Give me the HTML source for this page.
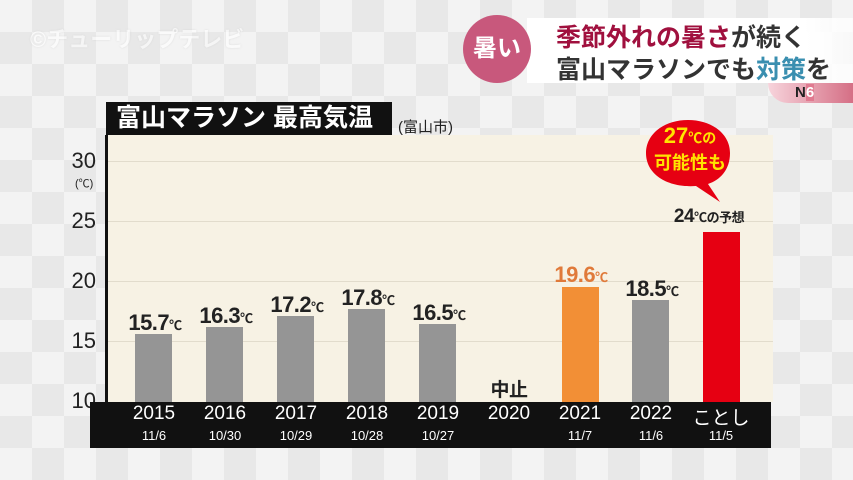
<!DOCTYPE html>
<html><head><meta charset="utf-8"><style>
*{margin:0;padding:0;box-sizing:border-box}
body{width:853px;height:480px;overflow:hidden;position:relative;font-family:"Liberation Sans","Noto Sans CJK JP",sans-serif;
background-color:#f3f3f3;
background-image:linear-gradient(45deg,#e8e8e8 25%,transparent 25%,transparent 75%,#e8e8e8 75%),linear-gradient(45deg,#e8e8e8 25%,transparent 25%,transparent 75%,#e8e8e8 75%);
background-size:64px 64px;background-position:0 0,32px 32px}
.a{position:absolute}
.bar{position:absolute;width:37px;background:#959595}
.lbl{position:absolute;font-weight:bold;font-size:22px;color:#222;white-space:nowrap;transform:translateX(-50%);letter-spacing:-0.5px}
.lbl small{font-size:13px}
.yt{position:absolute;right:757px;font-size:22px;color:#222}
.xl{position:absolute;width:70px;text-align:center;color:#fff;transform:translateX(-50%)}
</style></head><body>
<div class="a" style="left:30px;top:22px;font-size:22px;color:#fff;opacity:.6;font-weight:bold;text-shadow:0 0 2px #ccc">©チューリップテレビ</div>
<div class="a" style="left:527px;top:18px;width:326px;height:65px;background:linear-gradient(90deg,#fff 85%,rgba(255,255,255,.7))"></div>
<div class="a" style="left:463px;top:15px;width:68px;height:68px;border-radius:50%;background:#c8587c;color:#fff;font-size:24px;text-align:center;line-height:68px;font-weight:bold">暑い</div>
<div class="a" style="left:556px;top:22px;font-size:25px;font-weight:bold;color:#333;line-height:32px;white-space:nowrap"><span style="color:#a0103e">季節外れの暑さ</span>が続く<br>富山マラソンでも<span style="color:#3a8fb0">対策</span>を</div>
<div class="a" style="left:768px;top:83px;width:85px;height:20px;background:linear-gradient(90deg,#f7d4dc,#d56f85);border-radius:0 0 0 20px/0 0 0 20px"></div>
<div class="a" style="left:795px;top:84px;font-size:15px;font-weight:bold;color:#222">N<span style="color:#fff;background:#e07a90">6</span></div>
<div class="a" style="left:106px;top:135px;width:667px;height:267px;background:#f7f2e4"></div>
<div class="a" style="left:106px;top:161px;width:667px;height:1px;background:#e2dccc"></div>
<div class="a" style="left:106px;top:221px;width:667px;height:1px;background:#e2dccc"></div>
<div class="a" style="left:106px;top:281px;width:667px;height:1px;background:#e2dccc"></div>
<div class="a" style="left:106px;top:341px;width:667px;height:1px;background:#e2dccc"></div>
<div class="a" style="left:105px;top:135px;width:3px;height:267px;background:#111"></div>
<div class="a" style="left:106px;top:102px;width:286px;height:33px;background:#111;color:#fff;font-size:25px;font-weight:bold;line-height:33px;padding-left:10px;white-space:nowrap">富山マラソン 最高気温</div>
<div class="a" style="left:398px;top:116px;font-size:15px;color:#222">(富山市)</div>
<div class="yt" style="top:148px">30</div>
<div class="a" style="left:75px;top:175px;font-size:11px;color:#222">(℃)</div>
<div class="yt" style="top:208px">25</div>
<div class="yt" style="top:268px">20</div>
<div class="yt" style="top:328px">15</div>
<div class="yt" style="top:388px">10</div>
<div class="a" style="left:90px;top:402px;width:681px;height:46px;background:#111"></div>
<div class="bar" style="left:135px;top:334px;height:68px"></div>
<div class="bar" style="left:206px;top:327px;height:75px"></div>
<div class="bar" style="left:277px;top:316px;height:86px"></div>
<div class="bar" style="left:348px;top:309px;height:93px"></div>
<div class="bar" style="left:419px;top:324px;height:78px"></div>
<div class="bar" style="left:562px;top:287px;height:115px;background:#f28f36"></div>
<div class="bar" style="left:632px;top:300px;height:102px"></div>
<div class="bar" style="left:703px;top:232px;height:170px;background:#e60012"></div>
<div class="lbl" style="left:155px;top:310px">15.7<small>℃</small></div>
<div class="lbl" style="left:226px;top:303px">16.3<small>℃</small></div>
<div class="lbl" style="left:297px;top:292px">17.2<small>℃</small></div>
<div class="lbl" style="left:368px;top:285px">17.8<small>℃</small></div>
<div class="lbl" style="left:439px;top:300px">16.5<small>℃</small></div>
<div class="lbl" style="left:509px;top:375px;font-size:19px">中止</div>
<div class="lbl" style="left:581px;top:262px;color:#e07a3a">19.6<small>℃</small></div>
<div class="lbl" style="left:652px;top:276px">18.5<small>℃</small></div>
<div class="lbl" style="left:709px;top:206px;font-size:19px">24<small>℃の予想</small></div>
<svg class="a" style="left:640px;top:110px" width="110" height="100"><path d="M48 10 C72 10 90 24 90 43 C90 60 80 70 68 74 L80 92 L56 76 C30 78 6 66 6 43 C6 24 24 10 48 10Z" fill="#e60012"/></svg>
<div class="a" style="left:650px;top:124px;width:80px;text-align:center;font-weight:bold;color:#ffe400;font-size:22px;line-height:24px">27<small style="font-size:14px">℃の</small><br><span style="font-size:18px">可能性も</span></div>
<div class="xl" style="left:154px;top:403px;font-size:19px">2015</div>
<div class="xl" style="left:225px;top:403px;font-size:19px">2016</div>
<div class="xl" style="left:296px;top:403px;font-size:19px">2017</div>
<div class="xl" style="left:367px;top:403px;font-size:19px">2018</div>
<div class="xl" style="left:438px;top:403px;font-size:19px">2019</div>
<div class="xl" style="left:509px;top:403px;font-size:19px">2020</div>
<div class="xl" style="left:580px;top:403px;font-size:19px">2021</div>
<div class="xl" style="left:651px;top:403px;font-size:19px">2022</div>
<div class="xl" style="left:721px;top:403px;font-size:19px">ことし</div>
<div class="xl" style="left:154px;top:428px;font-size:13px">11/6</div>
<div class="xl" style="left:225px;top:428px;font-size:13px">10/30</div>
<div class="xl" style="left:296px;top:428px;font-size:13px">10/29</div>
<div class="xl" style="left:367px;top:428px;font-size:13px">10/28</div>
<div class="xl" style="left:438px;top:428px;font-size:13px">10/27</div>
<div class="xl" style="left:580px;top:428px;font-size:13px">11/7</div>
<div class="xl" style="left:651px;top:428px;font-size:13px">11/6</div>
<div class="xl" style="left:721px;top:428px;font-size:13px">11/5</div>
</body></html>
